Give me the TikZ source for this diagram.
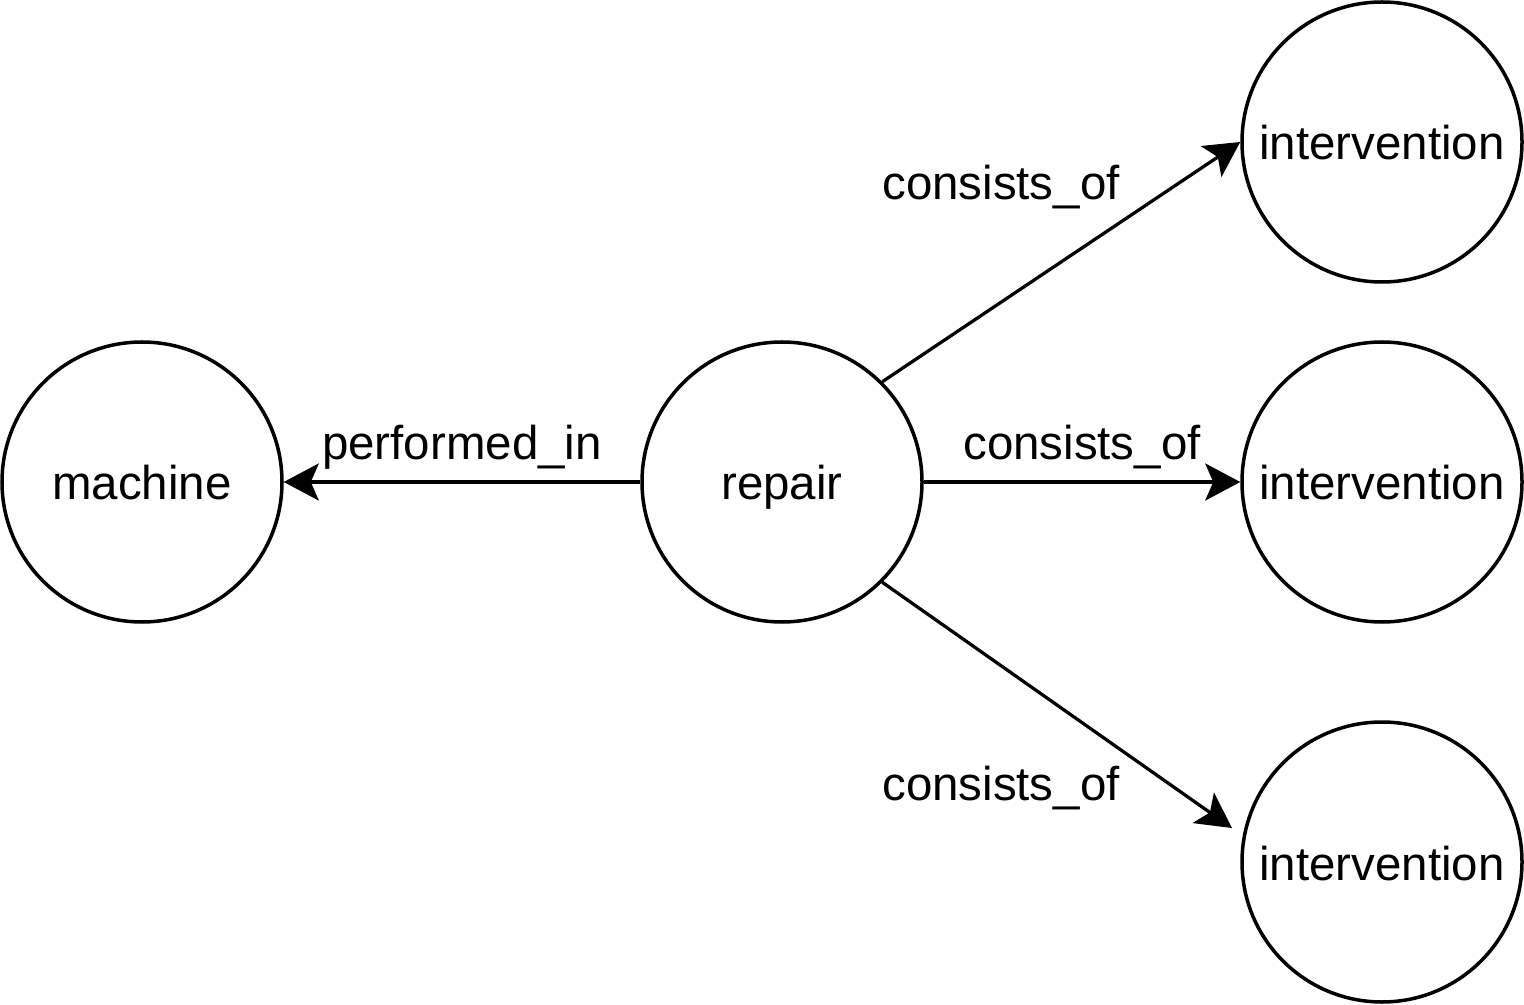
\documentclass[tikz,border=0pt]{standalone}
\usepackage{fontspec}
\setmainfont{Liberation Sans}
\usetikzlibrary{arrows.meta,positioning}

\begin{document}
\begin{tikzpicture}[
  ent/.style={draw,circle,line width=0.07cm,minimum size=5.6cm,inner sep=0pt,
              text height=0.72cm,text depth=0pt,font=\fontsize{27}{32}\selectfont},
  lbl/.style={inner sep=0pt,anchor=base,font=\fontsize{27}{32}\selectfont},
  elbl/.style={lbl,yshift=0.44cm},
  rel/.style={line width=0.065cm,-{Stealth[length=0.7cm,width=0.74cm,inset=0.16cm]}},
]
\useasboundingbox (0,0) rectangle (30.48,20.08);
\node[ent] (machine) at (2.84,10.44) {machine};
\node[ent] (repair) at (15.64,10.44) {repair};
\node[ent] (interA) at (27.64,17.24) {intervention};
\node[ent] (interB) at (27.64,10.44) {intervention};
\node[ent] (interC) at (27.64,2.84) {intervention};
\coordinate (tipC) at (24.64,3.52);
\draw[rel] (repair) -- (machine) node[midway,elbl]{performed\_in};
\draw[rel] (repair) -- (interB) node[midway,elbl]{consists\_of};
\draw[rel] (repair.45) -- (interA.west);
\draw[rel] (repair.-45) -- (tipC);
\node[lbl] (lblA) at (20.02,16.08) {consists\_of};
\node[lbl] (lblC) at (20.02,4.08) {consists\_of};
\end{tikzpicture}
\end{document}
